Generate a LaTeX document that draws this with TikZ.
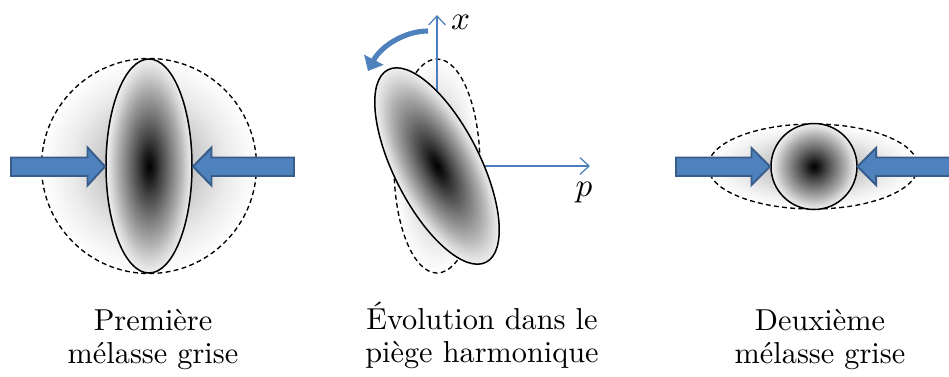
\documentclass[tikz,border=0pt]{standalone}
\usetikzlibrary{arrows.meta}
\definecolor{arrowfill}{HTML}{4F81BD}
\definecolor{arrowedge}{HTML}{385D8A}
\definecolor{axiscol}{HTML}{4A7EBB}
\pgfdeclareradialshading{blob}{\pgfpoint{0bp}{0bp}}{color(0bp)=(black); color(3bp)=(black!90); color(6bp)=(black!77); color(12bp)=(black!54); color(18bp)=(black!32); color(22bp)=(black!16); color(25bp)=(black!6); color(50bp)=(white)}
\pgfdeclareradialshading{halo}{\pgfpoint{0bp}{0bp}}{color(0bp)=(black!40); color(10bp)=(black!22); color(18bp)=(black!8); color(25bp)=(white); color(50bp)=(white)}
\tikzset{
  blockarrow/.style={fill=arrowfill, draw=arrowedge, line width=0.65pt, line join=miter},
  outline/.style={draw=black, line width=0.5pt},
  dashline/.style={draw=black, line width=0.45pt, dash pattern=on 1.6pt off 1.1pt},
  axisline/.style={draw=axiscol, line width=0.4pt, -{Straight Barb[length=3pt,width=5.5pt]}},
  rotarrow/.style={draw=arrowfill, line width=1.7pt, -{Triangle[length=4.2pt,width=7pt]}},
  caption/.style={align=center, font=\fontsize{10}{10.8}\selectfont, inner sep=0pt},
  axlabel/.style={inner sep=0pt, font=\fontsize{10.5}{12}\selectfont}
}
\begin{document}
\begin{tikzpicture}[x=0.33pt, y=-0.33pt]
\useasboundingbox (0,0) rectangle (949,376);

% ---------- left: first grey molasses ----------
\shade[shading=halo] (149,166) circle (107.5);
\draw[dashline] (149,166) circle (107.5);
\shade[shading=blob] (149,166) ellipse [x radius=43, y radius=107];
\draw[outline] (149,166) ellipse [x radius=43, y radius=107];
\draw[blockarrow] (11,157.5) -- (87.5,157.5) -- (87.5,147.5) -- (105,166.5) -- (87.5,185.5) -- (87.5,176) -- (11,176) -- cycle;
\draw[blockarrow] (294,157.5) -- (211.5,157.5) -- (211.5,147.5) -- (193,166.5) -- (211.5,185.5) -- (211.5,176) -- (294,176) -- cycle;

% ---------- middle: harmonic trap ----------
\shade[shading=halo] (437,166) ellipse [x radius=43, y radius=107];
\draw[dashline] (437,166) ellipse [x radius=43, y radius=107];
\coordinate (O) at (437,166);
\coordinate (xtip) at (437,15);
\coordinate (ptip) at (590,166);
\draw[axisline] (O) -- (xtip);
\draw[axisline] (O) -- (ptip);
\begin{scope}[transform canvas={shift={(437,166)}, rotate=27}]
  \shade[shading=blob] (0,0) ellipse [x radius=43, y radius=108];
  \draw[outline] (0,0) ellipse [x radius=43, y radius=108];
\end{scope}
\node[axlabel] (xl) at (460.5,22.5) {$x$};
\node[axlabel] (pl) at (584,193) {$p$};
\coordinate (rs) at (428,31);
\coordinate (re) at (368,71);
\draw[rotarrow] (rs) .. controls (405,31) and (381,46) .. (re);

% ---------- right: second grey molasses ----------
\shade[shading=halo] (813,166.5) ellipse [x radius=105, y radius=42.5];
\draw[dashline] (813,166.5) ellipse [x radius=105, y radius=42.5];
\shade[shading=blob] (814,166.5) circle (43);
\draw[outline] (814,166.5) circle (43);
\draw[blockarrow] (676,157.5) -- (751.5,157.5) -- (751.5,148) -- (770,166.5) -- (751.5,185) -- (751.5,176) -- (676,176) -- cycle;
\draw[blockarrow] (955,157.5) -- (876,157.5) -- (876,148) -- (857.5,166.5) -- (876,185) -- (876,176) -- (955,176) -- cycle;

% ---------- captions ----------
\node[caption, anchor=base] (c1) at (153,363) {Première\\mélasse grise};
\node[caption, anchor=base] (c2) at (482,362) {Évolution dans le\\piège harmonique};
\node[caption, anchor=base] (c3) at (820,363) {Deuxième\\mélasse grise};
\end{tikzpicture}
\end{document}
